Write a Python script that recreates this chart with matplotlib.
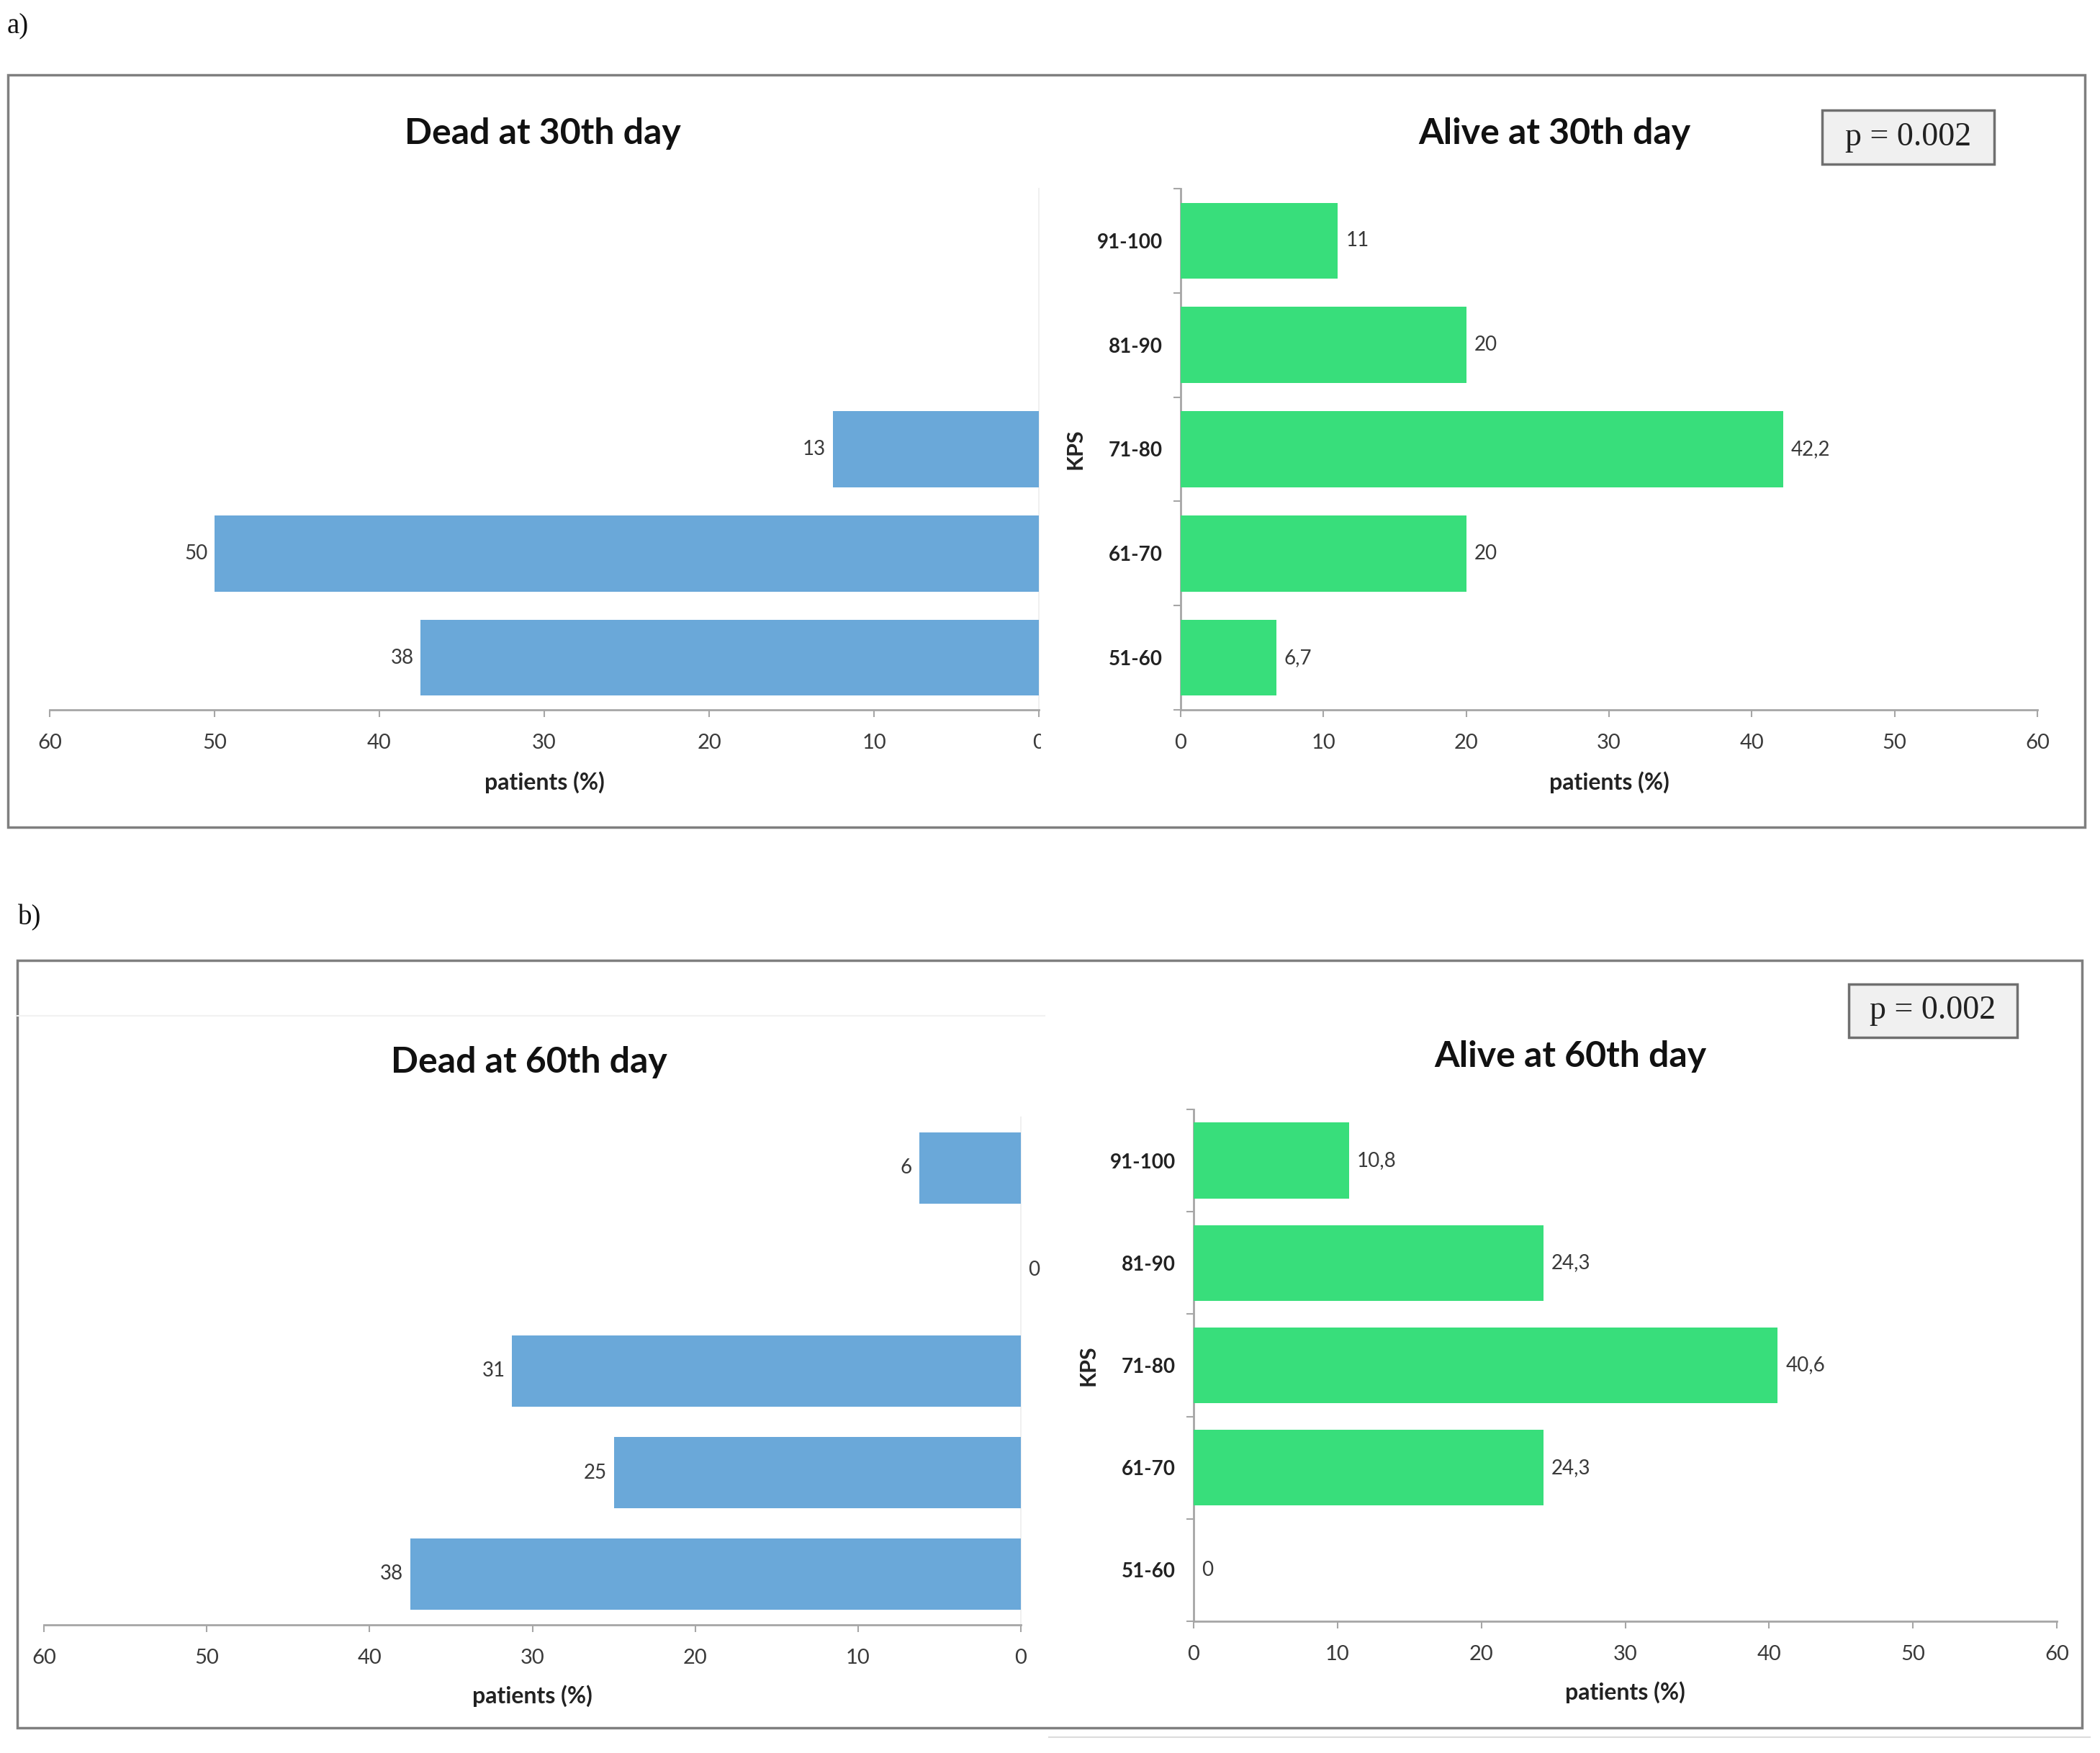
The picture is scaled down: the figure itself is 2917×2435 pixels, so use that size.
import matplotlib
matplotlib.use('Agg')
import matplotlib.pyplot as plt
from matplotlib.patches import Rectangle
from matplotlib.lines import Line2D
from matplotlib.transforms import Bbox, TransformedBbox

# ---------------- data ----------------
kps = ['51-60', '61-70', '71-80', '81-90', '91-100']
dead30 = [37.5, 50, 12.5, 0, 0]
dead30_labels = ['38', '50', '13', None, None]
alive30 = [6.7, 20, 42.2, 20, 11]
alive30_labels = ['6,7', '20', '42,2', '20', '11']
dead60 = [37.5, 25, 31.25, 0, 6.25]
dead60_labels = ['38', '25', '31', '0', '6']
alive60 = [0, 24.3, 40.6, 24.3, 10.8]
alive60_labels = ['0', '24,3', '40,6', '24,3', '10,8']
xticks = [0, 10, 20, 30, 40, 50, 60]
p_text = 'p = 0.002'

BLUE = '#6aa8d9'
GREEN = '#38de7b'
TXT = '#3a3a3a'
SPINE = '#a6a6a6'

plt.rcParams['font.family'] = ['Lato', 'DejaVu Sans']

W, H = 2917, 2435
fig = plt.figure(figsize=(W / 100, H / 100), dpi=100)


def fx(px):
    return px / W


def fy(py):
    return 1 - py / H


def make_axes(x0, x1, ytop, ybot):
    return fig.add_axes([fx(x0), fy(ybot), fx(x1 - x0), (ybot - ytop) / H])


def style_x(ax, pad, labelpad):
    ax.set_xlim(0, 60)
    ax.set_xticks(xticks)
    ax.set_xticklabels([str(t) for t in xticks])
    ax.tick_params(axis='x', direction='out', length=7, width=1.5, color=SPINE,
                   labelsize=21, labelcolor=TXT, pad=pad)
    ax.spines['bottom'].set_color(SPINE)
    ax.spines['bottom'].set_linewidth(2)
    ax.spines['top'].set_visible(False)
    ax.set_xlabel('patients (%)', fontsize=23, fontweight='bold', color='#222222',
                  labelpad=labelpad)


def dead_panel(ax, vals, labels, height, pad, labelpad):
    y = range(len(kps))
    ax.barh(y, vals, height=height, color=BLUE, edgecolor='none', zorder=3)
    style_x(ax, pad, labelpad)
    ax.invert_xaxis()
    ax.set_ylim(-0.5, 4.5)
    ax.set_yticks([])
    ax.spines['left'].set_visible(False)
    ax.spines['right'].set_color('#f0f0f0')
    ax.spines['right'].set_linewidth(1.5)
    for yi, v, lab in zip(y, vals, labels):
        if lab is None:
            continue
        if v == 0:
            ax.annotate(lab, (v, yi), xytext=(7, 0), textcoords='offset points',
                        ha='left', va='center', fontsize=20, color=TXT)
        else:
            ax.annotate(lab, (v, yi), xytext=(-7, 0), textcoords='offset points',
                        ha='right', va='center', fontsize=20, color=TXT)


def alive_panel(ax, vals, labels, height, pad, labelpad):
    y = range(len(kps))
    ax.barh(y, vals, height=height, color=GREEN, edgecolor='none', zorder=3)
    style_x(ax, pad, labelpad)
    ax.set_ylim(-0.5, 4.5)
    ax.set_yticks(list(y))
    ax.set_yticklabels(kps, fontweight='bold')
    ax.set_yticks([i - 0.5 for i in range(len(kps) + 1)], minor=True)
    ax.tick_params(axis='y', which='major', length=0, labelsize=20, labelcolor='#222222', pad=18)
    ax.tick_params(axis='y', which='minor', direction='out', length=7, width=1.5, color=SPINE)
    ax.spines['left'].set_color(SPINE)
    ax.spines['left'].set_linewidth(2)
    ax.spines['right'].set_visible(False)
    ax.set_ylabel('KPS', fontsize=22, fontweight='bold', color='#222222', labelpad=12)
    for yi, v, lab in zip(y, vals, labels):
        ax.annotate(lab, (v, yi), xytext=(8, 0), textcoords='offset points',
                    ha='left', va='center', fontsize=20, color=TXT)


# ---------------- panel a ----------------
ax1 = make_axes(69, 1443, 262, 986)
dead_panel(ax1, dead30, dead30_labels, 0.73, 17, 19)
ax2 = make_axes(1640, 2830, 262, 986)
alive_panel(ax2, alive30, alive30_labels, 0.73, 17, 19)

# clip the cut-off "0" tick label of the first dead chart
fig.canvas.draw()
clipbox = TransformedBbox(Bbox([[0, 0], [fx(1446), 1]]), fig.transFigure)
for lab in ax1.get_xticklabels():
    lab.set_clip_on(True)
    lab.set_clip_box(clipbox)

# ---------------- panel b ----------------
ax3 = make_axes(61, 1418, 1552, 2257)
dead_panel(ax3, dead60, dead60_labels, 0.70, 17, 17)
ax4 = make_axes(1658, 2857, 1541, 2252)
alive_panel(ax4, alive60, alive60_labels, 0.74, 17, 17)

# ---------------- titles ----------------
fig.text(fx(754), fy(186), 'Dead at 30th day', ha='center', va='center',
         fontsize=36, fontweight='bold', color='#111111')
fig.text(fx(2159), fy(186), 'Alive at 30th day', ha='center', va='center',
         fontsize=36, fontweight='bold', color='#111111')
fig.text(fx(735), fy(1476), 'Dead at 60th day', ha='center', va='center',
         fontsize=36, fontweight='bold', color='#111111')
fig.text(fx(2181), fy(1468), 'Alive at 60th day', ha='center', va='center',
         fontsize=36, fontweight='bold', color='#111111')

# panel letters
fig.text(fx(10), fy(37), 'a)', ha='left', va='center', fontsize=28,
         family=['Liberation Serif', 'DejaVu Serif'], color='#111111')
fig.text(fx(25), fy(1275), 'b)', ha='left', va='center', fontsize=28,
         family=['Liberation Serif', 'DejaVu Serif'], color='#111111')

# frames
for (x0, y0, x1, y1) in [(11, 104, 2896, 1149), (24, 1334, 2892, 2400)]:
    fig.add_artist(Rectangle((fx(x0), fy(y1)), fx(x1 - x0), (y1 - y0) / H,
                             transform=fig.transFigure, fill=False,
                             edgecolor='#7f7f7f', linewidth=2.5))

# faint artefact lines in panel b
fig.add_artist(Line2D([fx(24), fx(1451)], [fy(1411), fy(1411)], transform=fig.transFigure,
                      color='#f2f2f2', linewidth=1.5))
fig.add_artist(Line2D([fx(1457), fx(2903)], [fy(2413), fy(2413)], transform=fig.transFigure,
                      color='#dcdcdc', linewidth=1.5))

# p-value boxes
for (x0, y0, x1, y1) in [(2531, 153, 2770, 228), (2568, 1367, 2802, 1441)]:
    fig.add_artist(Rectangle((fx(x0), fy(y1)), fx(x1 - x0), (y1 - y0) / H,
                             transform=fig.transFigure, facecolor='#f0f0f0',
                             edgecolor='#6f6f6f', linewidth=2.5))
    fig.text(fx((x0 + x1) / 2), fy((y0 + y1) / 2), p_text, ha='center', va='center',
             fontsize=33, family=['Liberation Serif', 'DejaVu Serif'], color='#222222')

fig.savefig('out.png', dpi=100, facecolor='white')
